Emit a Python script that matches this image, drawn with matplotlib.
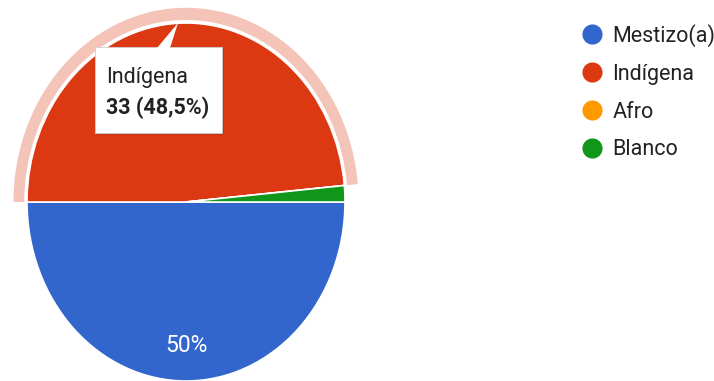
import matplotlib
matplotlib.use('Agg')
import matplotlib.pyplot as plt
from matplotlib.patches import Wedge, Polygon, Rectangle
from matplotlib.lines import Line2D

# Survey answers: self-identified ethnicity
categories = ['Mestizo(a)', 'Indígena', 'Afro', 'Blanco']
counts = [34, 33, 0, 1]
colors = ['#3366CC', '#DC3912', '#FF9900', '#109618']
highlight = 'Indígena'

W, H = 714, 381
fig = plt.figure(figsize=(W / 100, H / 100), dpi=100)
fig.patch.set_facecolor('white')

# Pie axes, placed in pixel terms (slightly taller than wide)
cx, cy = 186, 202
rx, ry = 159, 179
pad = 1.25
ax = fig.add_axes([(cx - rx * pad) / W, (H - cy - ry * pad) / H,
                   2 * rx * pad / W, 2 * ry * pad / H])

total = sum(counts)
hi = categories.index(highlight)


def fmt(p):
    return f'{p:.0f}%' if p >= 5 else ''


wedges, texts, autotexts = ax.pie(
    counts, colors=colors, startangle=0, counterclock=False,
    autopct=fmt, pctdistance=0.8,
    wedgeprops=dict(edgecolor='white', linewidth=1.2),
    textprops=dict(color='white', fontsize=16.5, family='Roboto'))
# the selected slice shows its value in the tooltip instead
autotexts[hi].set_text('')
ax.set_aspect('auto')
ax.set_xlim(-pad, pad)
ax.set_ylim(-pad, pad)

# Hover ring around the selected slice
w = wedges[hi]
ax.add_patch(Wedge((0, 0), 1.085, w.theta1, w.theta2, width=0.068,
                   facecolor='#F5C4B8', edgecolor='none', zorder=0))

# Overlay in pixel coordinates for the tooltip
ov = fig.add_axes([0, 0, 1, 1])
ov.set_xlim(0, W)
ov.set_ylim(H, 0)
ov.axis('off')
ov.patch.set_visible(False)

bx, by, bw, bh = 95, 47, 127, 86
ov.add_patch(Rectangle((bx + 2, by + 2), bw, bh, facecolor='#000000',
                       alpha=0.12, edgecolor='none'))
ov.add_patch(Rectangle((bx, by), bw, bh, facecolor='white',
                       edgecolor='#d0d0d0', linewidth=0.6))
ov.add_patch(Polygon([(157, by + 1), (178, 23), (170, by + 1)],
                     closed=True, facecolor='white', edgecolor='none'))

pct = counts[hi] / total * 100
ov.text(106, 77, highlight, fontsize=15.5, family='Roboto', color='#222222',
        va='center', ha='left')
ov.text(106, 108, f'{counts[hi]} ({pct:.1f}%)'.replace('.', ','),
        fontsize=15.5, family='Roboto', fontweight='bold', color='#222222',
        va='center', ha='left')

# Legend with round markers
handles = [Line2D([], [], linestyle='none', marker='o', markersize=14.5,
                  markerfacecolor=c, markeredgecolor='none') for c in colors]
fig.legend(handles, categories, loc='upper left',
           bbox_to_anchor=(581 / W, 1 - 24 / H), frameon=False,
           prop=dict(family='Roboto', size=15.5), labelcolor='#222222',
           handletextpad=0.45, labelspacing=0.78, handlelength=1.0,
           borderaxespad=0, borderpad=0)

fig.savefig('out.png', dpi=100)
